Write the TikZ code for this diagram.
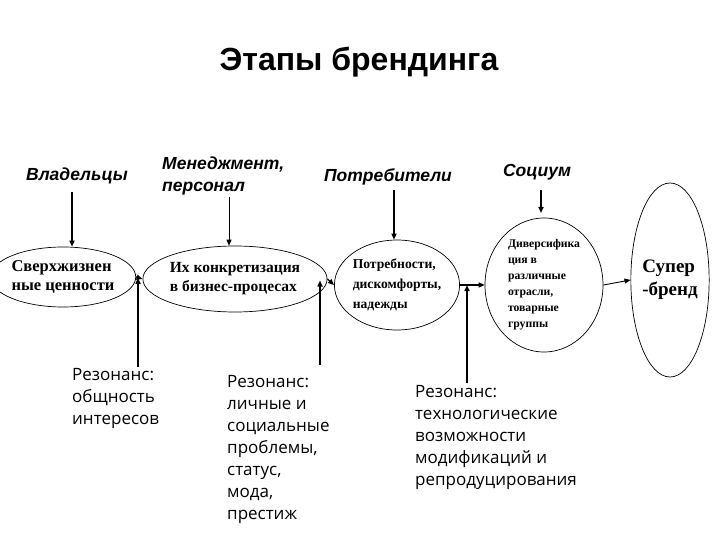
\documentclass[tikz,border=0pt]{standalone}
\usepackage{fontspec}
\setmainfont{Liberation Serif}
\newfontfamily\lsans{Liberation Sans}
\newfontfamily\resfont{Open Sans}
\usetikzlibrary{shapes.geometric,arrows.meta}
\tikzset{
  stage/.style={draw, ellipse, line width=0.7pt, inner sep=0pt, align=left, font=\bfseries\fontsize{15.5}{19}\selectfont},
  actor/.style={font=\lsans\bfseries\itshape\fontsize{17.5}{22}\selectfont, align=left, inner sep=0pt},
  res/.style={font=\resfont\fontsize{17}{22}\selectfont, align=left, inner sep=0pt, anchor=north west},
  down/.style={line width=1.6pt, -{Triangle[length=6pt,width=5pt]}},
  flow/.style={line width=1.2pt, -{Triangle[length=6pt,width=5pt]}},
  up/.style={line width=2pt, -{Triangle[length=6pt,width=5pt]}}
}
\begin{document}
\begin{tikzpicture}[x=1pt,y=-1pt]
\useasboundingbox (0,0) rectangle (720,540);
\node[font=\lsans\bfseries\fontsize{32}{34}\selectfont, inner sep=0pt] (title) at (359,62) {Этапы брендинга};

\node[actor] (own) at (77,176) {Владельцы};
\node[actor, anchor=west] (man) at (162,176) {Менеджмент,\\персонал};
\node[actor] (cons) at (388,177) {Потребители};
\node[actor] (soc) at (537,172) {Социум};

\node[stage, minimum width=126pt, minimum height=60pt, font=\bfseries\fontsize{16.5}{19}\selectfont] (e1) at (63,277) {Сверхжизнен\\ные ценности};
\node[stage, minimum width=160pt, minimum height=66pt] (e2) at (235,279) {Их конкретизация\\в бизнес-процесах};
\node[stage, minimum width=120pt, minimum height=90pt, font=\bfseries\fontsize{13.6}{20}\selectfont] (e3) at (397,285) {Потребности,\\дискомфорты,\\надежды};
\node[stage, minimum width=118pt, minimum height=134pt, font=\bfseries\fontsize{11.7}{16}\selectfont] (e4) at (544,285) {\raisebox{0pt}[\height][\depth]{}Диверсифика\\ция в\\различные\\отрасли,\\товарные\\группы};
\node[stage, minimum width=74pt, minimum height=194pt, font=\bfseries\fontsize{19}{23}\selectfont] (e5) at (670,280) {Супер\\-бренд};

\node[res] (r1) at (72,368) {Резонанс:\\общность\\интересов};
\node[res] (r2) at (227,375) {Резонанс:\\личные и\\социальные\\проблемы,\\статус,\\мода,\\престиж};
\node[res] (r3) at (415,385) {Резонанс:\\технологические\\возможности\\модификаций и\\репродуцирования};

\coordinate (o1) at (72,192);
\coordinate (m1) at (229,197);
\coordinate (c1) at (394,190);
\coordinate (s1) at (541,190);
\coordinate (s2) at (541,213);
\draw[down] (o1) -- (o1 |- e1.north);
\draw[down, line width=0.9pt] (m1) -- (m1 |- e2.north);
\draw[down] (c1) -- (c1 |- e3.north);
\draw[down] (s1) -- (s2);

\draw[flow] (e1.east) -- (e2.west);
\path (e1.east) -- (e2.west) coordinate[pos=0.4] (j1);
\draw[flow] (e2.east) -- (e3.west);
\path (e2.east) -- (e3.west) coordinate[pos=0.25] (j2);
\draw[flow] (e3.east) -- (e4.west);
\path (e3.east) -- (e4.west) coordinate[pos=0.4] (j3);
\draw[flow, line width=0.9pt] (e4.east) -- (e5.west);

\coordinate (b1) at (138,367);
\coordinate (b2) at (320,365);
\coordinate (b3) at (467,383);
\draw[up] (b1) -- (b1 |- j1);
\draw[up] (b2) -- (b2 |- j2);
\draw[up] (b3) -- (b3 |- j3);
\end{tikzpicture}
\end{document}
